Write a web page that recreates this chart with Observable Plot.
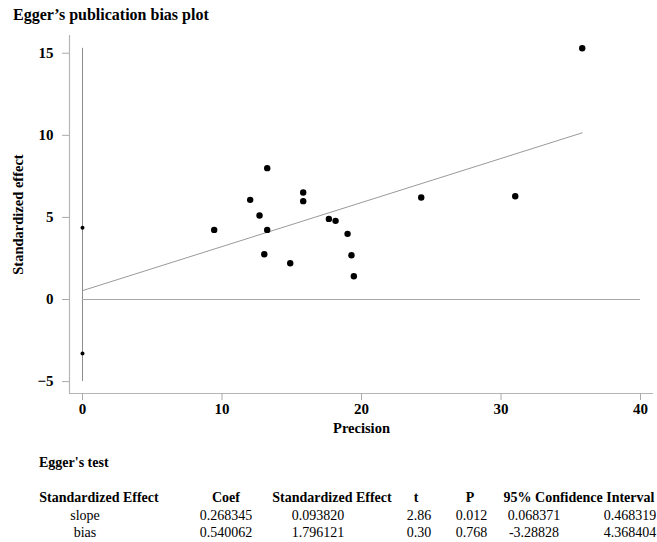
<!DOCTYPE html>
<html>
<head>
<meta charset="utf-8">
<script src="https://cdn.jsdelivr.net/npm/d3@7"></script>
<script src="https://cdn.jsdelivr.net/npm/@observablehq/plot@0.6"></script>
<style>
  html, body { margin: 0; padding: 0; background: #fff; }
  #wrap { position: relative; width: 657px; height: 542px; font-family: "Liberation Serif", "Times New Roman", serif; color: #000; }
  #title { position: absolute; left: 13px; top: 6px; font-size: 16px; font-weight: bold; white-space: nowrap; }
  #chart { position: absolute; left: 0; top: 30px; }
  #test { position: absolute; left: 39px; top: 455px; font-size: 14px; font-weight: bold; white-space: nowrap; }
  .cell { position: absolute; font-size: 14px; white-space: nowrap; transform: translateX(-50%); }
  .hdr { font-weight: bold; }
</style>
</head>
<body>
<div id="wrap">
  <div id="title">Egger’s publication bias plot</div>
  <div id="chart"></div>
  <div id="test">Egger's test</div>
  <div id="table"></div>
</div>
<script>
// ---- data ----
const precision = [9.44, 12.02, 12.69, 13.24, 13.24, 13.03, 14.89, 15.82, 15.82, 17.66, 18.14, 19.0, 19.28, 19.45, 24.28, 31.02, 35.82];
const stdEffect = [4.24, 6.07, 5.12, 8.00, 4.24, 2.76, 2.21, 6.52, 5.99, 4.91, 4.79, 4.00, 2.70, 1.42, 6.21, 6.29, 15.30];
const slope = 0.268345;
const bias = 0.540062;
const biasCI = [-3.28828, 4.368404];
const xTicks = [0, 10, 20, 30, 40];
const yTicks = [-5, 0, 5, 10, 15];

const tableHeaders = ["Standardized Effect", "Coef", "Standardized Effect", "t", "P", "95% Confidence Interval"];
const rowNames = ["slope", "bias"];
const coefCol = ["0.268345", "0.540062"];
const seCol = ["0.093820", "1.796121"];
const tCol = ["2.86", "0.30"];
const pCol = ["0.012", "0.768"];
const ciLowCol = ["0.068371", "-3.28828"];
const ciHighCol = ["0.468319", "4.368404"];

// ---- chart ----
const points = precision.map((p, i) => ({x: p, y: stdEffect[i]}));
const maxP = d3.max(precision);
const fitLine = [{x: 0, y: bias}, {x: maxP, y: bias + slope * maxP}];
const ciPts = biasCI.map(v => ({x: 0, y: v}));
const xDomain = [-0.932, 40.93];
const yDomain = [-5.725, 16.08];

const chart = Plot.plot({
  width: 657,
  height: 410,
  marginLeft: 69,
  marginRight: 4,
  marginTop: 5,
  marginBottom: 47,
  style: {fontFamily: "'Liberation Serif', 'Times New Roman', serif", fontSize: "14px", fontWeight: "bold", background: "#fff", overflow: "visible"},
  x: {domain: xDomain},
  y: {domain: yDomain},
  marks: [
    Plot.ruleX([xDomain[0]], {stroke: "#b5b5b5", strokeWidth: 1.2}),
    Plot.ruleY([yDomain[0]], {stroke: "#b5b5b5", strokeWidth: 1.2}),
    Plot.axisX({ticks: xTicks, tickSize: 7, tickPadding: 3, stroke: "#aaa", fill: "#000", fontSize: 15, label: null}),
    Plot.axisY({ticks: yTicks, tickSize: 7, tickPadding: 9, stroke: "#aaa", fill: "#000", fontSize: 15, label: null}),
    Plot.text(["Precision"], {frameAnchor: "bottom", dy: 39, fontSize: 14.5, fill: "#000"}),
    Plot.text(["Standardized effect"], {frameAnchor: "left", textAnchor: "middle", dx: -51, rotate: -90, fontSize: 14.5, fill: "#000"}),
    Plot.ruleX([0], {y1: yTicks[0], y2: d3.max(stdEffect), stroke: "#8c8c8c", strokeWidth: 1}),
    Plot.ruleY([0], {x1: 0, x2: xTicks[xTicks.length - 1], stroke: "#a8a8a8", strokeWidth: 1}),
    Plot.line(fitLine, {x: "x", y: "y", stroke: "#9a9a9a", strokeWidth: 1}),
    Plot.dot(ciPts, {x: "x", y: "y", r: 2, fill: "#000", stroke: "none"}),
    Plot.dot(points, {x: "x", y: "y", r: 3.2, fill: "#000", stroke: "none"})
  ]
});
document.getElementById("chart").appendChild(chart);

// ---- table ----
const table = document.getElementById("table");
function cell(text, cx, top, cls) {
  const s = document.createElement("span");
  s.className = "cell" + (cls ? " " + cls : "");
  s.textContent = text;
  s.style.left = cx + "px";
  s.style.top = top + "px";
  table.appendChild(s);
  return s;
}
const hdrCenters = [99, 226, 332, 416, 470, 579];
const hdrTop = 490;
tableHeaders.forEach((h, i) => cell(h, hdrCenters[i], hdrTop, "hdr"));
const valCenters = [85, 226, 318, 419, 471.5, 534, 630];
const rowTops = [508, 525];
rowNames.forEach((r, i) => {
  const top = rowTops[i];
  cell(r, valCenters[0], top);
  cell(coefCol[i], valCenters[1], top);
  cell(seCol[i], valCenters[2], top);
  cell(tCol[i], valCenters[3], top);
  cell(pCol[i], valCenters[4], top);
  cell(ciLowCol[i], valCenters[5], top);
  cell(ciHighCol[i], valCenters[6], top);
});
</script>
</body>
</html>
